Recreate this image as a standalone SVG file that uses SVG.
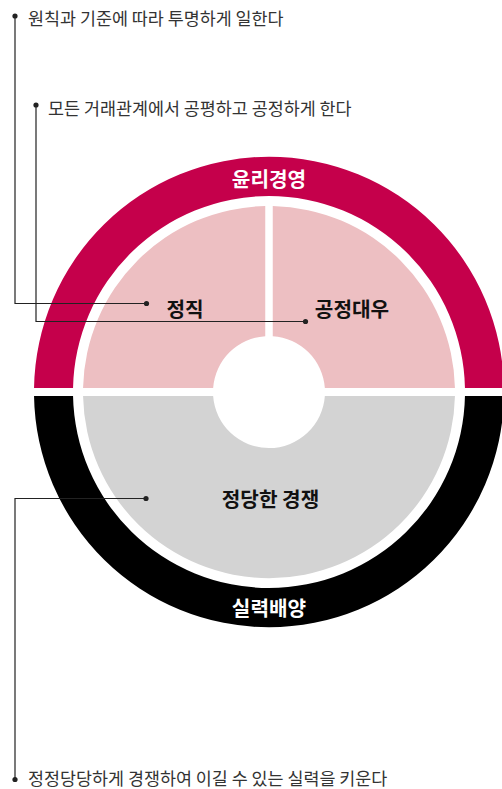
<svg xmlns="http://www.w3.org/2000/svg" width="502" height="789" viewBox="0 0 502 789">
  <defs>
    <style>
      .note { font-family: "Noto Sans CJK KR", "Noto Sans", sans-serif; font-size: 17.4px; fill: #333; }
      .lbl { font-family: "Noto Sans CJK KR", "Noto Sans", sans-serif; font-size: 20.2px; font-weight: bold; text-anchor: middle; fill: #111; }
      .ring-lbl { fill: #fff; }
      .line { fill: none; stroke: #222; stroke-width: 1.2; }
      .dot { fill: #222; }
      .magenta { fill: #C5004B; }
      .black { fill: #000; }
      .pink { fill: #EDBFC2; }
      .gray { fill: #D3D3D3; }
    </style>
  </defs>

  <g id="ring-ethics">
    <path class="magenta" d="M34.03,388 A235,235 0 0 1 503.97,388 L464.96,388 A196,196 0 0 0 73.04,388 Z"/>
    <text class="lbl ring-lbl" x="269" y="186.5">윤리경영</text>
  </g>

  <g id="ring-ability">
    <path class="black" d="M34.03,396 A235,235 0 0 0 503.97,396 L464.96,396 A196,196 0 0 1 73.04,396 Z"/>
    <text class="lbl ring-lbl" x="269" y="615.5">실력배양</text>
  </g>

  <g id="sector-integrity">
    <path class="pink" d="M83.04,388 A186,186 0 0 1 265.25,206.04 L265.25,336.13 A56,56 0 0 0 213.14,388 Z"/>
    <text class="lbl" x="185" y="316.5">정직</text>
  </g>

  <g id="sector-fairness">
    <path class="pink" d="M272.75,206.04 A186,186 0 0 1 454.96,388 L324.86,388 A56,56 0 0 0 272.75,336.13 Z"/>
    <text class="lbl" x="352" y="316.5">공정대우</text>
  </g>

  <g id="sector-competition">
    <path class="gray" d="M83.04,396 A186,186 0 0 0 454.96,396 L324.86,396 A56,56 0 0 1 213.14,396 Z"/>
    <text class="lbl" x="270.5" y="506.5">정당한 경쟁</text>
  </g>

  <g id="note-1">
    <text class="note" x="28" y="25">원칙과 기준에 따라 투명하게 일한다</text>
  </g>
  <g id="note-2">
    <text class="note" x="48" y="115">모든 거래관계에서 공평하고 공정하게 한다</text>
  </g>
  <g id="note-3">
    <text class="note" x="28" y="785">정정당당하게 경쟁하여 이길 수 있는 실력을 키운다</text>
  </g>

  <g id="connectors">
    <polyline class="line" points="15,16 15,303.5 146.5,303.5"/>
    <circle class="dot" cx="15" cy="16" r="2.6"/>
    <circle class="dot" cx="146.5" cy="303.5" r="2.6"/>

    <polyline class="line" points="36,105 36,321.5 305.5,321.5"/>
    <circle class="dot" cx="36" cy="105" r="2.6"/>
    <circle class="dot" cx="305.5" cy="321.5" r="2.6"/>

    <polyline class="line" points="146,498.5 15,498.5 15,779.5"/>
    <circle class="dot" cx="146" cy="498.5" r="2.6"/>
    <circle class="dot" cx="15" cy="779.5" r="2.6"/>
  </g>
</svg>
